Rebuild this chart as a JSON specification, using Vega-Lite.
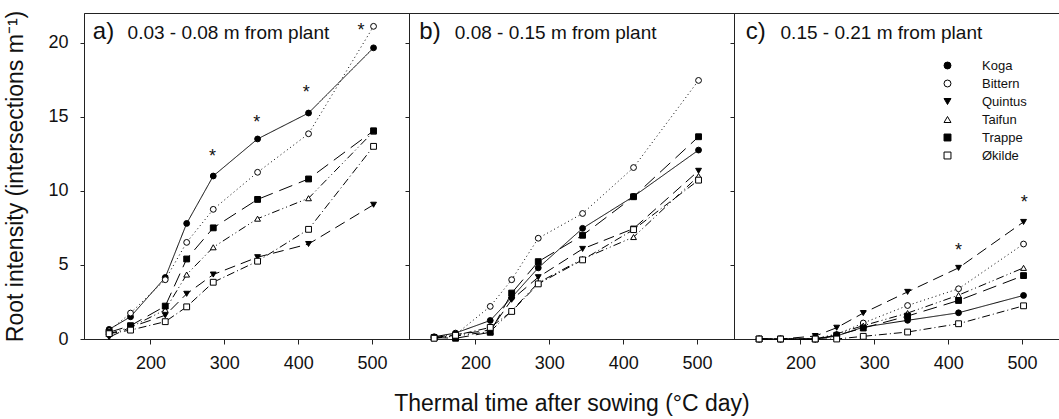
{
  "$schema": "https://vega.github.io/schema/vega-lite/v6.json",
  "padding": {"left": 4, "top": 9, "right": 0, "bottom": 0},
  "background": "white",
  "config": {
    "font": "Liberation Sans",
    "view": {"stroke": "#222", "strokeWidth": 1},
    "axis": {
      "grid": false, "domainColor": "#222", "tickColor": "#222",
      "labelColor": "#111", "titleColor": "#111",
      "labelFont": "Liberation Sans", "titleFont": "Liberation Sans",
      "labelFontSize": 18, "titleFontSize": 23, "titleFontWeight": "normal"
    }
  },
  "datasets": {
    "roots": [
      {"panel": "a", "cultivar": "Koga", "tt": 144, "ri": 0.65},
      {"panel": "a", "cultivar": "Koga", "tt": 173, "ri": 1.5},
      {"panel": "a", "cultivar": "Koga", "tt": 220, "ri": 4.15},
      {"panel": "a", "cultivar": "Koga", "tt": 249, "ri": 7.8},
      {"panel": "a", "cultivar": "Koga", "tt": 285, "ri": 11.0},
      {"panel": "a", "cultivar": "Koga", "tt": 345, "ri": 13.5},
      {"panel": "a", "cultivar": "Koga", "tt": 414, "ri": 15.25},
      {"panel": "a", "cultivar": "Koga", "tt": 502, "ri": 19.65},
      {"panel": "a", "cultivar": "Bittern", "tt": 144, "ri": 0.55},
      {"panel": "a", "cultivar": "Bittern", "tt": 173, "ri": 1.75},
      {"panel": "a", "cultivar": "Bittern", "tt": 220, "ri": 4.0},
      {"panel": "a", "cultivar": "Bittern", "tt": 249, "ri": 6.52},
      {"panel": "a", "cultivar": "Bittern", "tt": 285, "ri": 8.75},
      {"panel": "a", "cultivar": "Bittern", "tt": 345, "ri": 11.25},
      {"panel": "a", "cultivar": "Bittern", "tt": 414, "ri": 13.85},
      {"panel": "a", "cultivar": "Bittern", "tt": 502, "ri": 21.1},
      {"panel": "a", "cultivar": "Quintus", "tt": 144, "ri": 0.12},
      {"panel": "a", "cultivar": "Quintus", "tt": 173, "ri": 0.8},
      {"panel": "a", "cultivar": "Quintus", "tt": 220, "ri": 1.6},
      {"panel": "a", "cultivar": "Quintus", "tt": 249, "ri": 3.05},
      {"panel": "a", "cultivar": "Quintus", "tt": 285, "ri": 4.35},
      {"panel": "a", "cultivar": "Quintus", "tt": 345, "ri": 5.52},
      {"panel": "a", "cultivar": "Quintus", "tt": 414, "ri": 6.41},
      {"panel": "a", "cultivar": "Quintus", "tt": 502, "ri": 9.06},
      {"panel": "a", "cultivar": "Taifun", "tt": 144, "ri": 0.35},
      {"panel": "a", "cultivar": "Taifun", "tt": 173, "ri": 0.8},
      {"panel": "a", "cultivar": "Taifun", "tt": 220, "ri": 1.97},
      {"panel": "a", "cultivar": "Taifun", "tt": 249, "ri": 4.35},
      {"panel": "a", "cultivar": "Taifun", "tt": 285, "ri": 6.19},
      {"panel": "a", "cultivar": "Taifun", "tt": 345, "ri": 8.12},
      {"panel": "a", "cultivar": "Taifun", "tt": 414, "ri": 9.5},
      {"panel": "a", "cultivar": "Taifun", "tt": 502, "ri": 14.0},
      {"panel": "a", "cultivar": "Trappe", "tt": 144, "ri": 0.45},
      {"panel": "a", "cultivar": "Trappe", "tt": 173, "ri": 0.9},
      {"panel": "a", "cultivar": "Trappe", "tt": 220, "ri": 2.22},
      {"panel": "a", "cultivar": "Trappe", "tt": 249, "ri": 5.4},
      {"panel": "a", "cultivar": "Trappe", "tt": 285, "ri": 7.5},
      {"panel": "a", "cultivar": "Trappe", "tt": 345, "ri": 9.42},
      {"panel": "a", "cultivar": "Trappe", "tt": 414, "ri": 10.8},
      {"panel": "a", "cultivar": "Trappe", "tt": 502, "ri": 14.05},
      {"panel": "a", "cultivar": "Økilde", "tt": 144, "ri": 0.36},
      {"panel": "a", "cultivar": "Økilde", "tt": 173, "ri": 0.6},
      {"panel": "a", "cultivar": "Økilde", "tt": 220, "ri": 1.17},
      {"panel": "a", "cultivar": "Økilde", "tt": 249, "ri": 2.17},
      {"panel": "a", "cultivar": "Økilde", "tt": 285, "ri": 3.83},
      {"panel": "a", "cultivar": "Økilde", "tt": 345, "ri": 5.25},
      {"panel": "a", "cultivar": "Økilde", "tt": 414, "ri": 7.4},
      {"panel": "a", "cultivar": "Økilde", "tt": 502, "ri": 13.0},
      {"panel": "b", "cultivar": "Koga", "tt": 144, "ri": 0.15},
      {"panel": "b", "cultivar": "Koga", "tt": 173, "ri": 0.4},
      {"panel": "b", "cultivar": "Koga", "tt": 220, "ri": 1.25},
      {"panel": "b", "cultivar": "Koga", "tt": 249, "ri": 2.8},
      {"panel": "b", "cultivar": "Koga", "tt": 285, "ri": 4.8},
      {"panel": "b", "cultivar": "Koga", "tt": 345, "ri": 7.47},
      {"panel": "b", "cultivar": "Koga", "tt": 414, "ri": 9.62},
      {"panel": "b", "cultivar": "Koga", "tt": 502, "ri": 12.75},
      {"panel": "b", "cultivar": "Bittern", "tt": 144, "ri": 0.1},
      {"panel": "b", "cultivar": "Bittern", "tt": 173, "ri": 0.3},
      {"panel": "b", "cultivar": "Bittern", "tt": 220, "ri": 2.2},
      {"panel": "b", "cultivar": "Bittern", "tt": 249, "ri": 4.0},
      {"panel": "b", "cultivar": "Bittern", "tt": 285, "ri": 6.8},
      {"panel": "b", "cultivar": "Bittern", "tt": 345, "ri": 8.47},
      {"panel": "b", "cultivar": "Bittern", "tt": 414, "ri": 11.57},
      {"panel": "b", "cultivar": "Bittern", "tt": 502, "ri": 17.45},
      {"panel": "b", "cultivar": "Quintus", "tt": 144, "ri": 0.1},
      {"panel": "b", "cultivar": "Quintus", "tt": 173, "ri": 0.3},
      {"panel": "b", "cultivar": "Quintus", "tt": 220, "ri": 0.6},
      {"panel": "b", "cultivar": "Quintus", "tt": 249, "ri": 2.65},
      {"panel": "b", "cultivar": "Quintus", "tt": 285, "ri": 4.17},
      {"panel": "b", "cultivar": "Quintus", "tt": 345, "ri": 6.08},
      {"panel": "b", "cultivar": "Quintus", "tt": 414, "ri": 7.45},
      {"panel": "b", "cultivar": "Quintus", "tt": 502, "ri": 11.35},
      {"panel": "b", "cultivar": "Taifun", "tt": 144, "ri": 0.05},
      {"panel": "b", "cultivar": "Taifun", "tt": 173, "ri": 0.2},
      {"panel": "b", "cultivar": "Taifun", "tt": 220, "ri": 0.5},
      {"panel": "b", "cultivar": "Taifun", "tt": 249, "ri": 1.9},
      {"panel": "b", "cultivar": "Taifun", "tt": 285, "ri": 3.8},
      {"panel": "b", "cultivar": "Taifun", "tt": 345, "ri": 5.4},
      {"panel": "b", "cultivar": "Taifun", "tt": 414, "ri": 6.88},
      {"panel": "b", "cultivar": "Taifun", "tt": 502, "ri": 11.0},
      {"panel": "b", "cultivar": "Trappe", "tt": 144, "ri": 0.1},
      {"panel": "b", "cultivar": "Trappe", "tt": 173, "ri": 0.05},
      {"panel": "b", "cultivar": "Trappe", "tt": 220, "ri": 0.45},
      {"panel": "b", "cultivar": "Trappe", "tt": 249, "ri": 3.1},
      {"panel": "b", "cultivar": "Trappe", "tt": 285, "ri": 5.22},
      {"panel": "b", "cultivar": "Trappe", "tt": 345, "ri": 7.0},
      {"panel": "b", "cultivar": "Trappe", "tt": 414, "ri": 9.6},
      {"panel": "b", "cultivar": "Trappe", "tt": 502, "ri": 13.65},
      {"panel": "b", "cultivar": "Økilde", "tt": 144, "ri": 0.05},
      {"panel": "b", "cultivar": "Økilde", "tt": 173, "ri": 0.25},
      {"panel": "b", "cultivar": "Økilde", "tt": 220, "ri": 0.78},
      {"panel": "b", "cultivar": "Økilde", "tt": 249, "ri": 1.86},
      {"panel": "b", "cultivar": "Økilde", "tt": 285, "ri": 3.72},
      {"panel": "b", "cultivar": "Økilde", "tt": 345, "ri": 5.34},
      {"panel": "b", "cultivar": "Økilde", "tt": 414, "ri": 7.38},
      {"panel": "b", "cultivar": "Økilde", "tt": 502, "ri": 10.72},
      {"panel": "c", "cultivar": "Koga", "tt": 144, "ri": 0.0},
      {"panel": "c", "cultivar": "Koga", "tt": 173, "ri": 0.0},
      {"panel": "c", "cultivar": "Koga", "tt": 220, "ri": 0.0},
      {"panel": "c", "cultivar": "Koga", "tt": 249, "ri": 0.2},
      {"panel": "c", "cultivar": "Koga", "tt": 285, "ri": 0.8},
      {"panel": "c", "cultivar": "Koga", "tt": 345, "ri": 1.26},
      {"panel": "c", "cultivar": "Koga", "tt": 414, "ri": 1.77},
      {"panel": "c", "cultivar": "Koga", "tt": 502, "ri": 2.94},
      {"panel": "c", "cultivar": "Bittern", "tt": 144, "ri": 0.0},
      {"panel": "c", "cultivar": "Bittern", "tt": 173, "ri": 0.0},
      {"panel": "c", "cultivar": "Bittern", "tt": 220, "ri": 0.0},
      {"panel": "c", "cultivar": "Bittern", "tt": 249, "ri": 0.3},
      {"panel": "c", "cultivar": "Bittern", "tt": 285, "ri": 1.08},
      {"panel": "c", "cultivar": "Bittern", "tt": 345, "ri": 2.26},
      {"panel": "c", "cultivar": "Bittern", "tt": 414, "ri": 3.39},
      {"panel": "c", "cultivar": "Bittern", "tt": 502, "ri": 6.41},
      {"panel": "c", "cultivar": "Quintus", "tt": 144, "ri": 0.0},
      {"panel": "c", "cultivar": "Quintus", "tt": 173, "ri": 0.0},
      {"panel": "c", "cultivar": "Quintus", "tt": 220, "ri": 0.2},
      {"panel": "c", "cultivar": "Quintus", "tt": 249, "ri": 0.76},
      {"panel": "c", "cultivar": "Quintus", "tt": 285, "ri": 1.75},
      {"panel": "c", "cultivar": "Quintus", "tt": 345, "ri": 3.18},
      {"panel": "c", "cultivar": "Quintus", "tt": 414, "ri": 4.8},
      {"panel": "c", "cultivar": "Quintus", "tt": 502, "ri": 7.9},
      {"panel": "c", "cultivar": "Taifun", "tt": 144, "ri": 0.0},
      {"panel": "c", "cultivar": "Taifun", "tt": 173, "ri": 0.0},
      {"panel": "c", "cultivar": "Taifun", "tt": 220, "ri": 0.0},
      {"panel": "c", "cultivar": "Taifun", "tt": 249, "ri": 0.35},
      {"panel": "c", "cultivar": "Taifun", "tt": 285, "ri": 0.9},
      {"panel": "c", "cultivar": "Taifun", "tt": 345, "ri": 1.75},
      {"panel": "c", "cultivar": "Taifun", "tt": 414, "ri": 2.96},
      {"panel": "c", "cultivar": "Taifun", "tt": 502, "ri": 4.8},
      {"panel": "c", "cultivar": "Trappe", "tt": 144, "ri": 0.0},
      {"panel": "c", "cultivar": "Trappe", "tt": 173, "ri": 0.0},
      {"panel": "c", "cultivar": "Trappe", "tt": 220, "ri": 0.0},
      {"panel": "c", "cultivar": "Trappe", "tt": 249, "ri": 0.25},
      {"panel": "c", "cultivar": "Trappe", "tt": 285, "ri": 0.74},
      {"panel": "c", "cultivar": "Trappe", "tt": 345, "ri": 1.55},
      {"panel": "c", "cultivar": "Trappe", "tt": 414, "ri": 2.6},
      {"panel": "c", "cultivar": "Trappe", "tt": 502, "ri": 4.28},
      {"panel": "c", "cultivar": "Økilde", "tt": 144, "ri": 0.0},
      {"panel": "c", "cultivar": "Økilde", "tt": 173, "ri": 0.0},
      {"panel": "c", "cultivar": "Økilde", "tt": 220, "ri": 0.0},
      {"panel": "c", "cultivar": "Økilde", "tt": 249, "ri": 0.0},
      {"panel": "c", "cultivar": "Økilde", "tt": 285, "ri": 0.18},
      {"panel": "c", "cultivar": "Økilde", "tt": 345, "ri": 0.47},
      {"panel": "c", "cultivar": "Økilde", "tt": 414, "ri": 1.03},
      {"panel": "c", "cultivar": "Økilde", "tt": 502, "ri": 2.24}
    ],
    "stars": [
      {"panel": "a", "tt": 284, "ri": 12.5},
      {"panel": "a", "tt": 344, "ri": 14.8},
      {"panel": "a", "tt": 411, "ri": 16.8},
      {"panel": "a", "tt": 485, "ri": 21.0},
      {"panel": "c", "tt": 414, "ri": 6.13},
      {"panel": "c", "tt": 503, "ri": 9.4}
    ],
    "panels": [
      {"panel": "a", "tag": "a)", "desc": "0.03 - 0.08 m from plant"},
      {"panel": "b", "tag": "b)", "desc": "0.08 - 0.15 m from plant"},
      {"panel": "c", "tag": "c)", "desc": "0.15 - 0.21 m from plant"}
    ]
  },
  "bounds": "flush",
  "spacing": 0,
  "resolve": {"scale": {"shape": "independent", "fill": "independent", "stroke": "independent", "strokeDash": "independent"}},
  "hconcat": [
    {
      "width": 325, "height": 326,
      "layer": [
        {
          "data": {"name": "roots"},
          "transform": [{"filter": "datum.panel === 'a'"}],
          "mark": {"type": "line", "color": "black", "strokeWidth": 1},
          "encoding": {
            "x": {"field": "tt", "type": "quantitative", "scale": {"domain": [110, 550], "nice": false, "zero": false},
                  "axis": {"title": null, "values": [200, 300, 400, 500], "tickSize": 5, "labelPadding": 10}},
            "y": {"field": "ri", "type": "quantitative", "scale": {"domain": [0, 22], "nice": false},
                  "axis": {"title": "Root intensity (intersections m⁻¹)", "values": [0, 5, 10, 15, 20], "tickSize": 4, "labelPadding": 12, "titlePadding": 20}},
            "strokeDash": {"field": "cultivar", "type": "nominal",
              "scale": {"domain": ["Bittern", "Koga", "Quintus", "Taifun", "Trappe", "Økilde"],
                        "range": [[1, 3], [1, 0], [11, 6], [8, 3, 1, 3, 1, 3], [14, 7], [8, 3, 1, 3]]},
              "legend": null}
          }
        },
        {
          "data": {"name": "roots"},
          "transform": [{"filter": "datum.panel === 'a'"}],
          "mark": {"type": "point", "filled": true, "strokeWidth": 1, "opacity": 1, "size": 34},
          "encoding": {
            "x": {"field": "tt", "type": "quantitative"},
            "y": {"field": "ri", "type": "quantitative"},
            "shape": {"field": "cultivar", "type": "nominal",
              "scale": {"domain": ["Koga", "Bittern", "Quintus", "Taifun", "Trappe", "Økilde"],
                        "range": ["circle", "circle", "triangle-down", "triangle-up", "square", "square"]}, "legend": null},
            "fill": {"field": "cultivar", "type": "nominal",
              "scale": {"domain": ["Koga", "Bittern", "Quintus", "Taifun", "Trappe", "Økilde"],
                        "range": ["black", "white", "black", "white", "black", "white"]}, "legend": null},
            "stroke": {"field": "cultivar", "type": "nominal",
              "scale": {"domain": ["Koga", "Bittern", "Quintus", "Taifun", "Trappe", "Økilde"],
                        "range": ["black", "black", "black", "black", "black", "black"]}, "legend": null}
          }
        },
        {
          "data": {"name": "stars"},
          "transform": [{"filter": "datum.panel === 'a'"}],
          "mark": {"type": "text", "text": "*", "fontSize": 18, "baseline": "middle", "dy": 3, "color": "#111"},
          "encoding": {"x": {"field": "tt", "type": "quantitative"}, "y": {"field": "ri", "type": "quantitative"}}
        },
        {
          "data": {"name": "panels"},
          "transform": [{"filter": "datum.panel === 'a'"}],
          "mark": {"type": "text", "fontSize": 24, "align": "left", "baseline": "alphabetic", "color": "#111"},
          "encoding": {"x": {"datum": 122, "type": "quantitative"}, "y": {"datum": 20.25, "type": "quantitative"}, "text": {"field": "tag"}}
        },
        {
          "data": {"name": "panels"},
          "transform": [{"filter": "datum.panel === 'a'"}],
          "mark": {"type": "text", "fontSize": 19, "align": "left", "baseline": "alphabetic", "color": "#111"},
          "encoding": {"x": {"datum": 169, "type": "quantitative"}, "y": {"datum": 20.25, "type": "quantitative"}, "text": {"field": "desc"}}
        }
      ]
    },
    {
      "width": 325, "height": 326,
      "layer": [
        {
          "data": {"name": "roots"},
          "transform": [{"filter": "datum.panel === 'b'"}],
          "mark": {"type": "line", "color": "black", "strokeWidth": 1},
          "encoding": {
            "x": {"field": "tt", "type": "quantitative", "scale": {"domain": [110, 550], "nice": false, "zero": false},
                  "axis": {"title": "Thermal time after sowing (°C day)", "values": [200, 300, 400, 500], "tickSize": 5, "labelPadding": 10, "titlePadding": 20}},
            "y": {"field": "ri", "type": "quantitative", "scale": {"domain": [0, 22], "nice": false},
                  "axis": {"title": null, "labels": false, "values": [0, 5, 10, 15, 20], "tickSize": 4}},
            "strokeDash": {"field": "cultivar", "type": "nominal",
              "scale": {"domain": ["Bittern", "Koga", "Quintus", "Taifun", "Trappe", "Økilde"],
                        "range": [[1, 3], [1, 0], [11, 6], [8, 3, 1, 3, 1, 3], [14, 7], [8, 3, 1, 3]]},
              "legend": null}
          }
        },
        {
          "data": {"name": "roots"},
          "transform": [{"filter": "datum.panel === 'b'"}],
          "mark": {"type": "point", "filled": true, "strokeWidth": 1, "opacity": 1, "size": 34},
          "encoding": {
            "x": {"field": "tt", "type": "quantitative"},
            "y": {"field": "ri", "type": "quantitative"},
            "shape": {"field": "cultivar", "type": "nominal",
              "scale": {"domain": ["Koga", "Bittern", "Quintus", "Taifun", "Trappe", "Økilde"],
                        "range": ["circle", "circle", "triangle-down", "triangle-up", "square", "square"]}, "legend": null},
            "fill": {"field": "cultivar", "type": "nominal",
              "scale": {"domain": ["Koga", "Bittern", "Quintus", "Taifun", "Trappe", "Økilde"],
                        "range": ["black", "white", "black", "white", "black", "white"]}, "legend": null},
            "stroke": {"field": "cultivar", "type": "nominal",
              "scale": {"domain": ["Koga", "Bittern", "Quintus", "Taifun", "Trappe", "Økilde"],
                        "range": ["black", "black", "black", "black", "black", "black"]}, "legend": null}
          }
        },
        {
          "data": {"name": "panels"},
          "transform": [{"filter": "datum.panel === 'b'"}],
          "mark": {"type": "text", "fontSize": 24, "align": "left", "baseline": "alphabetic", "color": "#111"},
          "encoding": {"x": {"datum": 124, "type": "quantitative"}, "y": {"datum": 20.25, "type": "quantitative"}, "text": {"field": "tag"}}
        },
        {
          "data": {"name": "panels"},
          "transform": [{"filter": "datum.panel === 'b'"}],
          "mark": {"type": "text", "fontSize": 19, "align": "left", "baseline": "alphabetic", "color": "#111"},
          "encoding": {"x": {"datum": 172, "type": "quantitative"}, "y": {"datum": 20.25, "type": "quantitative"}, "text": {"field": "desc"}}
        }
      ]
    },
    {
      "width": 325, "height": 326,
      "layer": [
        {
          "data": {"name": "roots"},
          "transform": [{"filter": "datum.panel === 'c'"}],
          "mark": {"type": "line", "color": "black", "strokeWidth": 1},
          "encoding": {
            "x": {"field": "tt", "type": "quantitative", "scale": {"domain": [110, 550], "nice": false, "zero": false},
                  "axis": {"title": null, "values": [200, 300, 400, 500], "tickSize": 5, "labelPadding": 10}},
            "y": {"field": "ri", "type": "quantitative", "scale": {"domain": [0, 22], "nice": false},
                  "axis": {"title": null, "labels": false, "values": [0, 5, 10, 15, 20], "tickSize": 4}},
            "strokeDash": {"field": "cultivar", "type": "nominal",
              "scale": {"domain": ["Bittern", "Koga", "Quintus", "Taifun", "Trappe", "Økilde"],
                        "range": [[1, 3], [1, 0], [11, 6], [8, 3, 1, 3, 1, 3], [14, 7], [8, 3, 1, 3]]},
              "legend": null}
          }
        },
        {
          "data": {"name": "roots"},
          "transform": [{"filter": "datum.panel === 'c'"}],
          "mark": {"type": "point", "filled": true, "strokeWidth": 1, "opacity": 1, "size": 34},
          "encoding": {
            "x": {"field": "tt", "type": "quantitative"},
            "y": {"field": "ri", "type": "quantitative"},
            "shape": {"field": "cultivar", "type": "nominal",
              "scale": {"domain": ["Koga", "Bittern", "Quintus", "Taifun", "Trappe", "Økilde"],
                        "range": ["circle", "circle", "triangle-down", "triangle-up", "square", "square"]},
              "legend": {"title": null, "orient": "none", "legendX": 207, "legendY": 46, "padding": 0,
                         "labelFontSize": 13, "labelFont": "Liberation Sans", "labelColor": "#111", "labelOffset": 28,
                         "symbolSize": 48, "symbolStrokeWidth": 1, "rowPadding": 4}},
            "fill": {"field": "cultivar", "type": "nominal",
              "scale": {"domain": ["Koga", "Bittern", "Quintus", "Taifun", "Trappe", "Økilde"],
                        "range": ["black", "white", "black", "white", "black", "white"]},
              "legend": {"title": null, "orient": "none", "legendX": 207, "legendY": 46, "padding": 0,
                         "labelFontSize": 13, "labelFont": "Liberation Sans", "labelColor": "#111", "labelOffset": 28,
                         "symbolSize": 48, "symbolStrokeWidth": 1, "rowPadding": 4}},
            "stroke": {"field": "cultivar", "type": "nominal",
              "scale": {"domain": ["Koga", "Bittern", "Quintus", "Taifun", "Trappe", "Økilde"],
                        "range": ["black", "black", "black", "black", "black", "black"]},
              "legend": {"title": null, "orient": "none", "legendX": 207, "legendY": 46, "padding": 0,
                         "labelFontSize": 13, "labelFont": "Liberation Sans", "labelColor": "#111", "labelOffset": 28,
                         "symbolSize": 48, "symbolStrokeWidth": 1, "rowPadding": 4}}
          }
        },
        {
          "data": {"name": "stars"},
          "transform": [{"filter": "datum.panel === 'c'"}],
          "mark": {"type": "text", "text": "*", "fontSize": 18, "baseline": "middle", "dy": 3, "color": "#111"},
          "encoding": {"x": {"field": "tt", "type": "quantitative"}, "y": {"field": "ri", "type": "quantitative"}}
        },
        {
          "data": {"name": "panels"},
          "transform": [{"filter": "datum.panel === 'c'"}],
          "mark": {"type": "text", "fontSize": 24, "align": "left", "baseline": "alphabetic", "color": "#111"},
          "encoding": {"x": {"datum": 126, "type": "quantitative"}, "y": {"datum": 20.25, "type": "quantitative"}, "text": {"field": "tag"}}
        },
        {
          "data": {"name": "panels"},
          "transform": [{"filter": "datum.panel === 'c'"}],
          "mark": {"type": "text", "fontSize": 19, "align": "left", "baseline": "alphabetic", "color": "#111"},
          "encoding": {"x": {"datum": 173, "type": "quantitative"}, "y": {"datum": 20.25, "type": "quantitative"}, "text": {"field": "desc"}}
        }
      ]
    }
  ]
}
